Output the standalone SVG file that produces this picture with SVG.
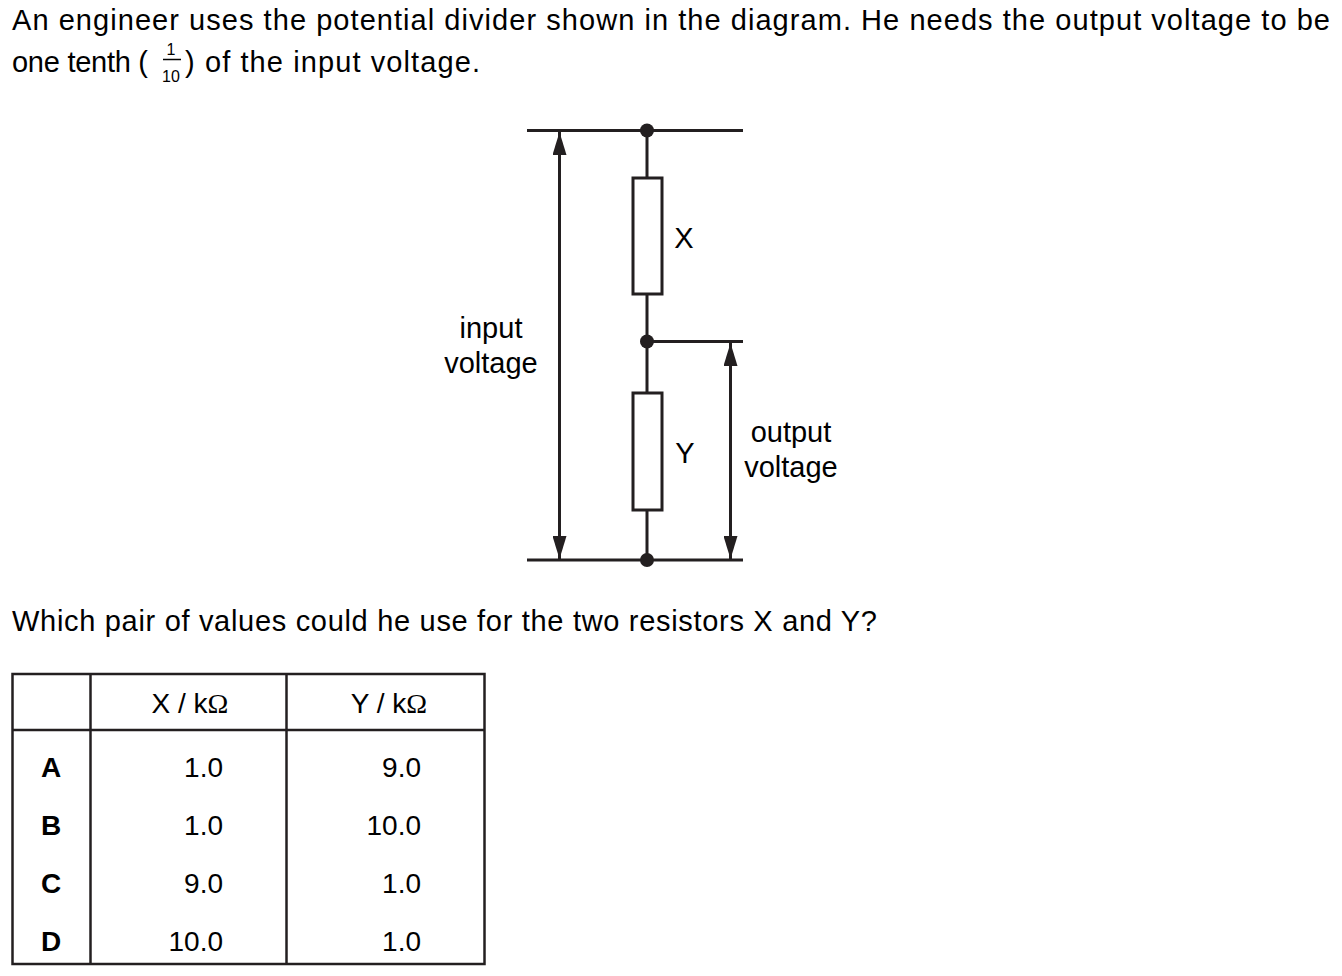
<svg xmlns="http://www.w3.org/2000/svg" width="1342" height="976" viewBox="0 0 1342 976">
<style>
.t{font-family:"Liberation Sans",Arial,sans-serif;fill:#000;}
.m{font-size:29px;}
.l{font-size:29px;}
.c{font-size:28px;}
.b{font-size:28px;font-weight:bold;}
.w{stroke:#231f20;stroke-width:3;fill:none;}
.r{stroke:#231f20;stroke-width:3;fill:#fff;}
.d{fill:#231f20;}
.g{stroke:#231f20;stroke-width:2.5;fill:none;}
</style>
<defs>
<marker id="ah" viewBox="0 0 23 14" refX="23" refY="7" markerWidth="23" markerHeight="14" markerUnits="userSpaceOnUse" orient="auto">
<path d="M0,0 L23,7 L0,14 Z" fill="#231f20"/>
</marker>
</defs>
<rect width="1342" height="976" fill="#fff"/>
<g id="question">
<text class="t m" x="12" y="30" textLength="1318" lengthAdjust="spacing">An engineer uses the potential divider shown in the diagram. He needs the output voltage to be</text>
<text class="t m" x="12" y="72" textLength="136" lengthAdjust="spacing">one tenth (</text>
<text class="t" style="font-size:16px" x="171" y="55" text-anchor="middle">1</text>
<line x1="163" y1="59.5" x2="181" y2="59.5" stroke="#000" stroke-width="1.5"/>
<text class="t" style="font-size:16px" x="171" y="82" text-anchor="middle">10</text>
<text class="t m" x="185" y="72" textLength="295" lengthAdjust="spacing">) of the input voltage.</text>
<text class="t m" x="12" y="631" textLength="865" lengthAdjust="spacing">Which pair of values could he use for the two resistors X and Y?</text>
</g>
<g id="connectors">
<line class="w" x1="527" y1="130.5" x2="743" y2="130.5"/>
<line class="w" x1="647" y1="341.5" x2="743" y2="341.5"/>
<line class="w" x1="527" y1="560" x2="743" y2="560"/>
<line class="w" x1="647" y1="130.5" x2="647" y2="560"/>
<line class="w" x1="559.5" y1="300" x2="559.5" y2="132" marker-end="url(#ah)"/>
<line class="w" x1="559.5" y1="300" x2="559.5" y2="559" marker-end="url(#ah)"/>
<line class="w" x1="730.5" y1="450" x2="730.5" y2="343" marker-end="url(#ah)"/>
<line class="w" x1="730.5" y1="450" x2="730.5" y2="559" marker-end="url(#ah)"/>
</g>
<g id="resistorX">
<rect class="r" x="633" y="178" width="29" height="116"/>
<text class="t l" x="684" y="248" text-anchor="middle">X</text>
</g>
<g id="resistorY">
<rect class="r" x="633" y="393" width="29" height="117"/>
<text class="t l" x="685" y="463" text-anchor="middle">Y</text>
</g>
<g id="junctions">
<circle class="d" cx="647" cy="130.5" r="7"/>
<circle class="d" cx="647" cy="341.5" r="7"/>
<circle class="d" cx="647" cy="560" r="7"/>
</g>
<g id="inputLabel">
<text class="t l" x="491" y="338" text-anchor="middle">input</text>
<text class="t l" x="491" y="373" text-anchor="middle">voltage</text>
</g>
<g id="outputLabel">
<text class="t l" x="791" y="442" text-anchor="middle">output</text>
<text class="t l" x="791" y="477" text-anchor="middle">voltage</text>
</g>
<g id="table">
<rect class="g" x="12.5" y="674" width="472" height="290"/>
<line class="g" x1="90.5" y1="674" x2="90.5" y2="964"/>
<line class="g" x1="286.5" y1="674" x2="286.5" y2="964"/>
<line class="g" x1="12.5" y1="730" x2="484.5" y2="730"/>
<text class="t c" x="190" y="713" text-anchor="middle">X / k<tspan style="font-family:'Liberation Serif',serif">Ω</tspan></text>
<text class="t c" x="389" y="713" text-anchor="middle">Y / k<tspan style="font-family:'Liberation Serif',serif">Ω</tspan></text>
<text class="t b" x="51" y="777" text-anchor="middle">A</text>
<text class="t b" x="51" y="835" text-anchor="middle">B</text>
<text class="t b" x="51" y="893" text-anchor="middle">C</text>
<text class="t b" x="51" y="951" text-anchor="middle">D</text>
<text class="t c" x="223" y="777" text-anchor="end">1.0</text>
<text class="t c" x="223" y="835" text-anchor="end">1.0</text>
<text class="t c" x="223" y="893" text-anchor="end">9.0</text>
<text class="t c" x="223" y="951" text-anchor="end">10.0</text>
<text class="t c" x="421" y="777" text-anchor="end">9.0</text>
<text class="t c" x="421" y="835" text-anchor="end">10.0</text>
<text class="t c" x="421" y="893" text-anchor="end">1.0</text>
<text class="t c" x="421" y="951" text-anchor="end">1.0</text>
</g>
</svg>
